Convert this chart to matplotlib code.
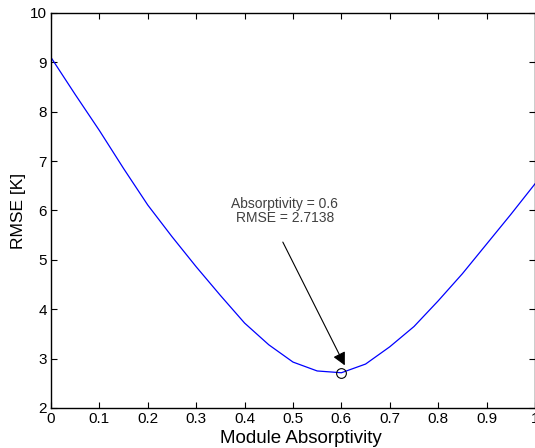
import numpy as np
import matplotlib.pyplot as plt

plt.rcParams['font.family'] = ['Liberation Sans', 'DejaVu Sans']

# RMSE of the model against module absorptivity
absorptivity = [0.0, 0.05, 0.1, 0.15, 0.2, 0.25, 0.3, 0.35, 0.4, 0.45, 0.5,
                0.55, 0.6, 0.65, 0.7, 0.75, 0.8, 0.85, 0.9, 0.95, 1.0]
rmse = [9.10, 8.35, 7.62, 6.85, 6.11, 5.47, 4.86, 4.28, 3.72, 3.28, 2.93,
        2.75, 2.7138, 2.89, 3.24, 3.65, 4.17, 4.72, 5.32, 5.92, 6.54]

best_a = 0.6
best_rmse = 2.7138

fig = plt.figure(figsize=(5.35, 4.48), dpi=100)
ax = fig.add_axes([0.0953, 0.0893, 0.9047, 0.8817])

ax.plot(absorptivity, rmse, color='#0000ff', lw=0.9)
ax.plot([best_a], [best_rmse], 'o', mfc='none', mec='black', ms=7, mew=0.8)

# label and arrow pointing at the minimum
ax.text(0.483, 5.99, 'Absorptivity = %.1f\nRMSE = %.4f' % (best_a, best_rmse),
        ha='center', va='center', fontsize=10, color='#404040',
        linespacing=0.95)
ax.annotate('', xy=(best_a + 0.007, best_rmse + 0.15), xytext=(0.479, 5.36),
            arrowprops=dict(arrowstyle='-|>,head_length=0.55,head_width=0.28',
                            color='black', lw=0.8, mutation_scale=14,
                            shrinkA=0, shrinkB=0))

ax.set_xlim(0, 1)
ax.set_ylim(2, 10)
ax.set_xticks(np.arange(0, 1.01, 0.1))
ax.set_xticklabels(['0', '0.1', '0.2', '0.3', '0.4', '0.5', '0.6', '0.7',
                    '0.8', '0.9', '1'])
ax.set_yticks(range(2, 11))
ax.tick_params(direction='in', top=True, right=True, labelsize=11,
               length=4, width=0.8, pad=3)
for s in ax.spines.values():
    s.set_linewidth(1.0)

ax.set_xlabel('Module Absorptivity', fontsize=13.5)
ax.xaxis.set_label_coords(0.517, -0.055)
ax.set_ylabel('RMSE [K]', fontsize=12.5)
ax.yaxis.set_label_coords(-0.052, 0.5)

fig.savefig('out.png', dpi=100)
